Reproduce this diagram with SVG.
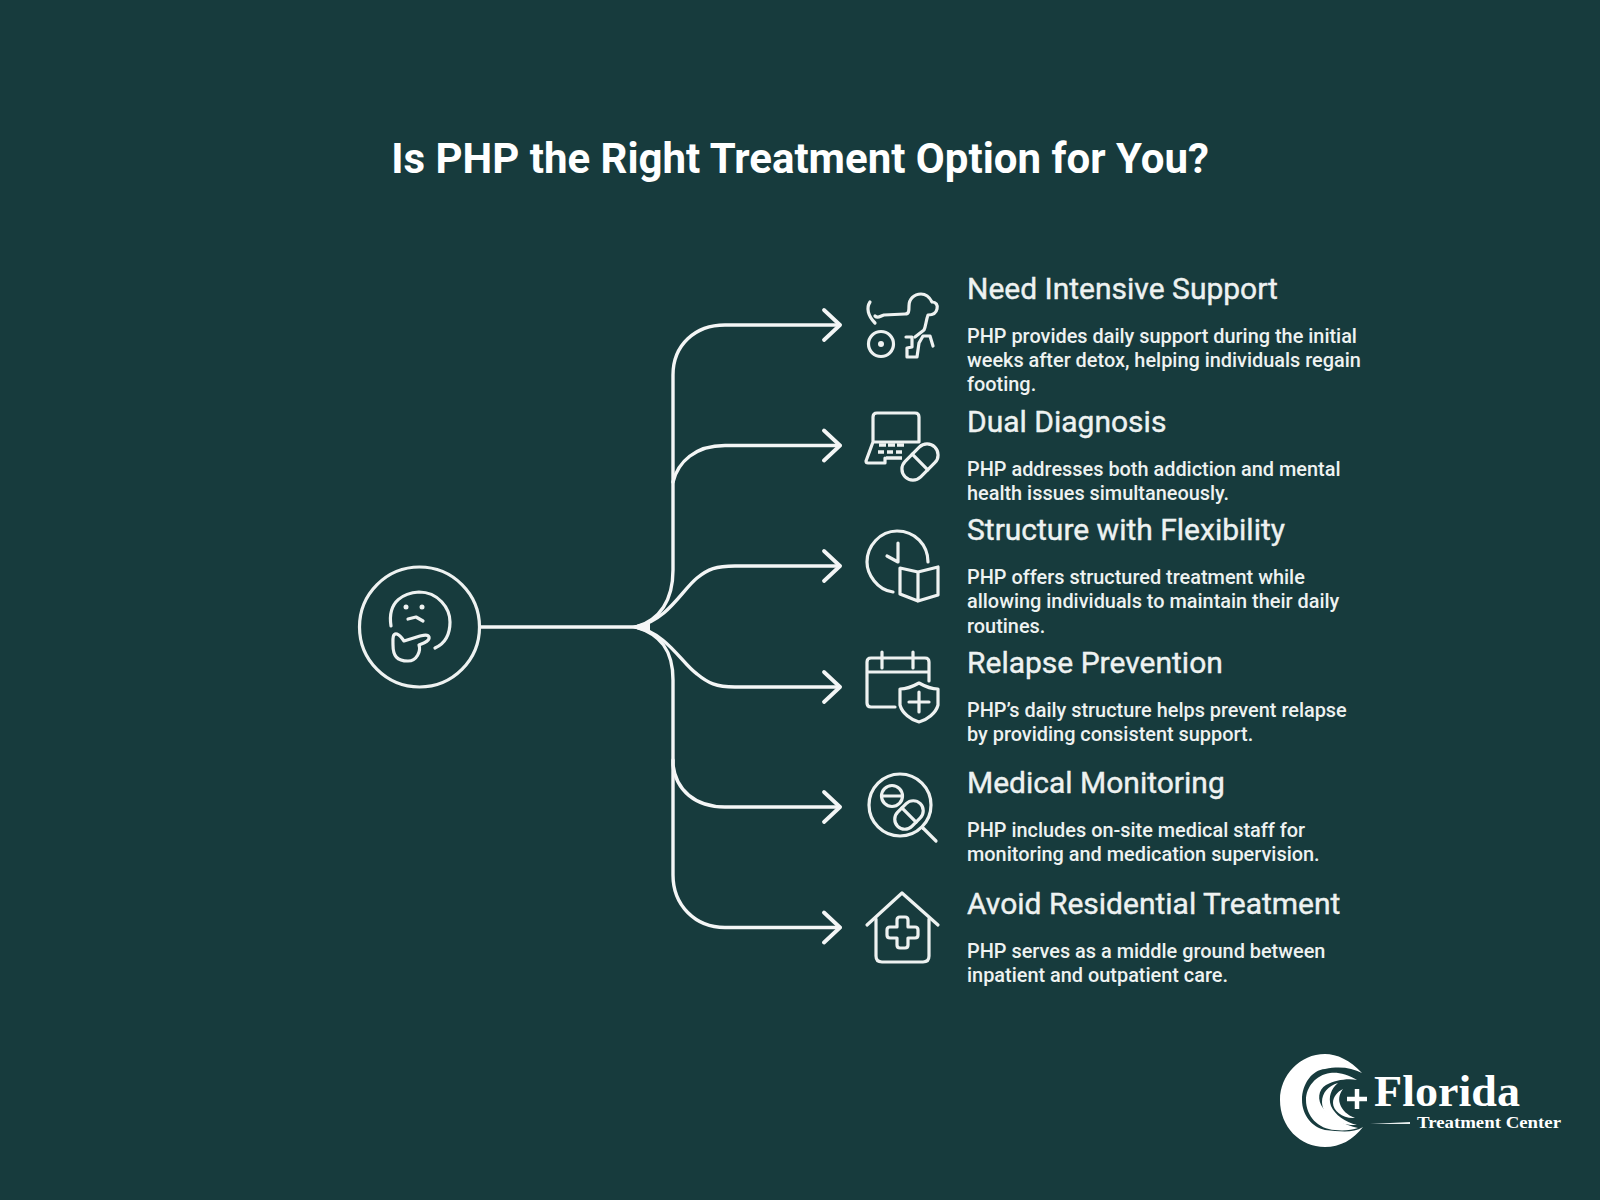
<svg xmlns="http://www.w3.org/2000/svg" width="1600" height="1200" viewBox="0 0 1600 1200">
<style>
.t{font-family:Roboto,"Liberation Sans",sans-serif;fill:#fff}
.title{font-size:42px;font-weight:700;text-anchor:middle}
.h{font-size:30px;font-weight:400;fill:#eef2f1;stroke:#eef2f1;stroke-width:.4}
.b{font-size:19.9px;font-weight:500;fill:#eef2f1}
.ic{fill:none;stroke:#eef2f1;stroke-width:3.2;stroke-linecap:round;stroke-linejoin:round}
.c{fill:none;stroke:#f4f6f6;stroke-width:3.400;stroke-linecap:round}
.s{font-family:"Liberation Serif",serif;fill:#fff;font-weight:700}
</style>
<defs><marker id="a" markerUnits="userSpaceOnUse" markerWidth="24" markerHeight="36" refX="19" refY="18" orient="auto"><path d="M3 3L19 18L3 33" fill="none" stroke="#f4f6f6" stroke-width="3.8" stroke-linecap="round" stroke-linejoin="round"/></marker></defs>
<rect width="1600" height="1200" fill="#173b3d"/>
<text class="t title" x="800" y="173">Is PHP the Right Treatment Option for You?</text>
<g id="connectors">
<path class="c" d="M481 627H636C660 620 673 600 673 570V375C673 345 695 325 725 325H840" marker-end="url(#a)"/>
<path class="c" d="M673 482C678 462 695 445.500 725 445.500H840" marker-end="url(#a)"/>
<path class="c" d="M636 627C668 620 682 590 697 578C708 569 716 566 735 566H840" marker-end="url(#a)"/>
<path class="c" d="M636 627C668 634 682 664 697 674C708 683 716 687 735 687H840" marker-end="url(#a)"/>
<path class="c" d="M636 627C660 634 673 650 673 680V765C676 790 695 807 725 807H840" marker-end="url(#a)"/>
<path class="c" d="M673 760V875C673 905 695 927.500 725 927.500H840" marker-end="url(#a)"/>
<path d="M628 627L650 622L650 632Z" fill="#f4f6f6"/>
</g>
<g id="center">
<circle class="ic" cx="419.500" cy="627" r="60"/>
<path class="ic" d="M391 626C387 600 405 593 419 592C438 592 450 608 450 622C450 636 444 644 435 648"/>
<circle cx="406" cy="607" r="2.500" fill="#eef2f1"/><circle cx="422" cy="607" r="2.500" fill="#eef2f1"/>
<path class="ic" d="M408 619L416 617L423 621"/>
<path class="ic" d="M397 634C392 633 393 640 393 645C393 656 397 661 408 661C417 661 421 651 419 645C424 643 430 641 429 637C428 634 424 635 420 636L404 641C402 638 400 635 397 634Z"/>
</g>
<g id="n1">
<path class="ic" d="M870 302C866 308 868 316 875 323M875 316C878 319 880 316 884 315L905 314C909 314 909 311 909 306C909 299 914 294 921 294C927 294 930 298 932 302C936 302 938 305 937 309C936 314 932 315 928 315C926 320 926 326 924 330L915 337"/>
<path class="ic" d="M906 337H912V347L907 348V357H917L919 343L923 336H930L933 346"/>
<circle class="ic" cx="881" cy="344" r="12.500"/><circle cx="881" cy="344" r="3" fill="#eef2f1"/>
</g>
<g id="n2">
<path class="ic" d="M873 442V417Q873 413 877 413H915Q919 413 919 417V442H873L866 461Q866 463 868 463H885V458"/>
<path d="M879 445h7M888 445h7M897 445h7M878 452h6M887 452h6M896 452h6M886 458h16" stroke="#eef2f1" stroke-width="3.500"/>
<g transform="rotate(-45 920 462)"><rect class="ic" x="899" y="451" width="42" height="22" rx="11"/><path class="ic" d="M920 451V473"/></g>
</g>
<g id="n3">
<path class="ic" d="M893 592C877 590 867 574 867 562C867 546 880 531 897 531C915 531 928 545 928 562"/>
<path class="ic" d="M898 543V562L887 556"/>
<path class="ic" d="M900 568L918 572V601L900 594Z M918 572L938 567V595L918 601Z" />
</g>
<g id="n4">
<path class="ic" d="M895 707H871Q867 707 867 703V662Q867 658 871 658H925Q929 658 929 662V681M867 672H929M882 652V668M913 652V668"/>
<path class="ic" d="M919 683C912 687 905 689 900 689V705C902 713 911 720 919 722C927 720 936 713 938 705V689C932 689 926 687 919 683Z"/>
<path class="ic" d="M909 702H929M919 692V712"/>
</g>
<g id="n5">
<circle class="ic" cx="900" cy="805" r="31"/>
<circle class="ic" cx="892" cy="796" r="10.500"/><path class="ic" d="M882 796H902"/>
<g transform="rotate(-45 909 815)"><rect class="ic" x="893" y="805" width="32" height="20" rx="10"/><path class="ic" d="M909 805V825"/></g>
<path class="ic" d="M923 828L936 841"/>
</g>
<g id="n6">
<path class="ic" d="M867 925L902 893L938 925"/>
<path class="ic" d="M876 919V956Q876 962 882 962H923Q929 962 929 956V919"/>
<path class="ic" d="M897 920Q897 917 900 917H905Q908 917 908 920V927H915Q918 927 918 930V935Q918 938 915 938H908V945Q908 948 905 948H900Q897 948 897 945V938H890Q887 938 887 935V930Q887 927 890 927H897Z"/>
</g>
<g id="text1"><text class="t h" x="967" y="299">Need Intensive Support</text>
<text class="t b" x="967" y="343">PHP provides daily support during the initial</text><text class="t b" x="967" y="367">weeks after detox, helping individuals regain</text><text class="t b" x="967" y="391">footing.</text></g>
<g id="text2"><text class="t h" x="967" y="432">Dual Diagnosis</text>
<text class="t b" x="967" y="476">PHP addresses both addiction and mental</text><text class="t b" x="967" y="500">health issues simultaneously.</text></g>
<g id="text3"><text class="t h" x="967" y="540">Structure with Flexibility</text>
<text class="t b" x="967" y="584">PHP offers structured treatment while</text><text class="t b" x="967" y="608">allowing individuals to maintain their daily</text><text class="t b" x="967" y="632.500">routines.</text></g>
<g id="text4"><text class="t h" x="967" y="673">Relapse Prevention</text>
<text class="t b" x="967" y="717">PHP’s daily structure helps prevent relapse</text><text class="t b" x="967" y="741">by providing consistent support.</text></g>
<g id="text5"><text class="t h" x="967" y="793">Medical Monitoring</text>
<text class="t b" x="967" y="837">PHP includes on-site medical staff for</text><text class="t b" x="967" y="861">monitoring and medication supervision.</text></g>
<g id="text6"><text class="t h" x="967" y="913.500">Avoid Residential Treatment</text>
<text class="t b" x="967" y="958">PHP serves as a middle ground between</text><text class="t b" x="967" y="982">inpatient and outpatient care.</text></g>
<g id="logo">
<path fill="#fff" d="M1362 1073C1350 1060 1337 1054 1325 1054C1300 1054 1280 1075 1280 1100C1280 1127 1300 1147 1325 1147C1340 1147 1353 1140 1363 1127C1352 1134 1338 1131 1325 1130C1312 1127 1302 1115 1302 1100C1302 1084 1312 1070 1325 1069C1340 1066 1352 1068 1362 1073Z"/>
<path fill="#fff" d="M1357 1080C1347 1074 1338 1072 1330 1073C1316 1075 1306 1087 1306 1100C1306 1116 1318 1129 1335 1130C1344 1131 1352 1130 1358 1128C1345 1125 1330 1118 1323 1108C1317 1100 1318 1090 1326 1085C1335 1080 1348 1078 1357 1080Z"/>
<path fill="#fff" d="M1338 1083C1328 1086 1322 1093 1322 1102C1322 1115 1337 1126 1357 1125C1345 1122 1335 1115 1331 1106C1328 1097 1331 1089 1338 1083Z"/>
<path fill="#fff" d="M1343 1089C1337 1092 1333 1097 1333 1103C1333 1111 1343 1119 1355 1118C1347 1115 1342 1110 1340 1104C1338 1098 1340 1093 1343 1089Z"/>
<path d="M1347 1099H1367M1357 1089V1109" stroke="#fff" stroke-width="4.500" fill="none"/>
<path d="M1370 1124L1410 1122V1124Z" fill="#e8eeee"/>
<text class="s" x="1374" y="1106" font-size="44" textLength="146" lengthAdjust="spacingAndGlyphs">Florida</text>
<text class="s" x="1417" y="1128" font-size="16.500" textLength="144" lengthAdjust="spacingAndGlyphs">Treatment Center</text>
</g>
</svg>
